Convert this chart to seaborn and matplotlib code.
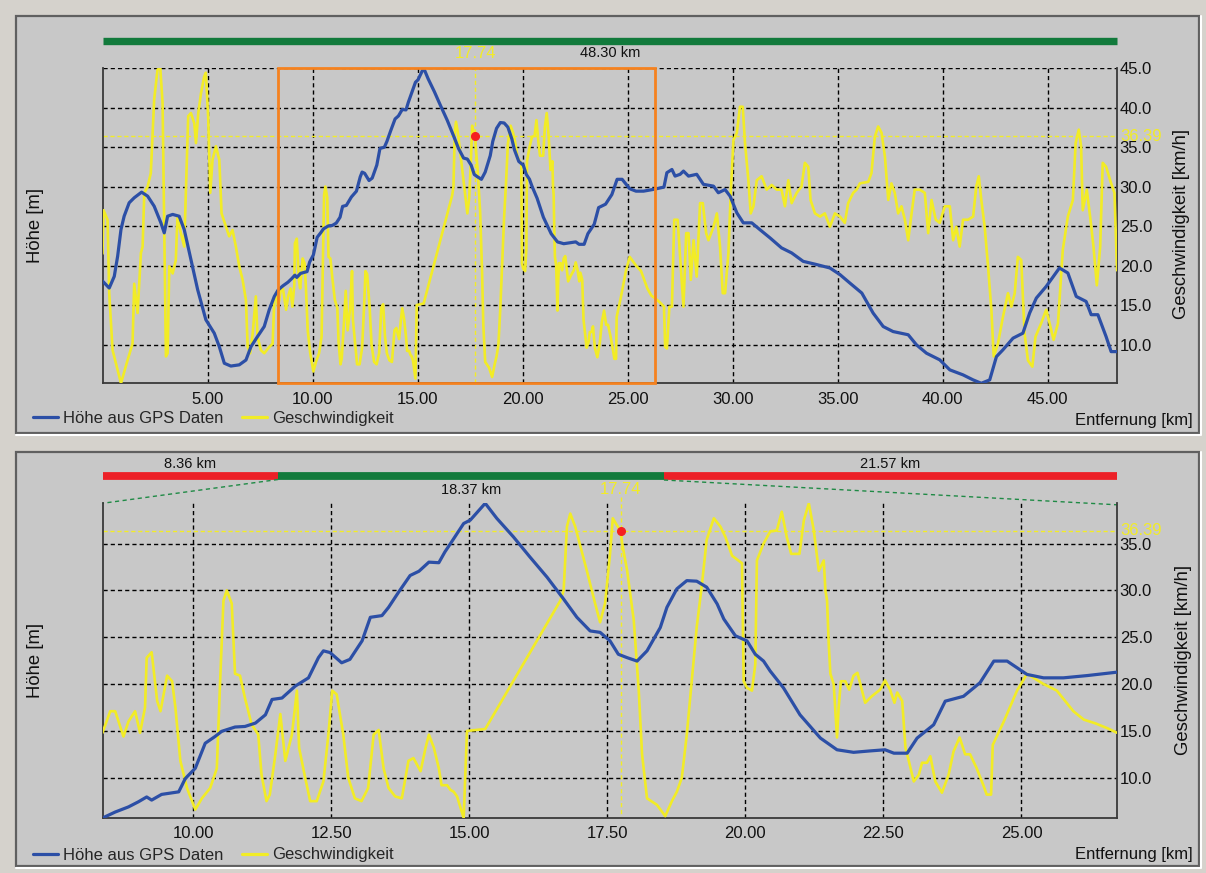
import numpy as np
import pandas as pd
import matplotlib
matplotlib.use("Agg")
import matplotlib.pyplot as plt
import matplotlib.transforms as mtransforms
from matplotlib.patches import Rectangle
from matplotlib.lines import Line2D
import seaborn as sns

# ------------------------------------------------------------------ data
elev_km = [0.00, 0.32, 0.56, 0.72, 0.88, 1.03, 1.27, 1.51, 1.86, 2.15, 2.46, 2.78, 2.94, 3.10, 3.34, 3.65,
           3.89, 4.21, 4.53, 4.92, 5.32, 5.56, 5.80, 6.11, 6.51, 6.83, 7.07, 7.38, 7.70, 7.94, 8.18,
           8.36, 8.59, 8.83, 9.01, 9.16, 9.25, 9.43, 9.74, 9.86, 10.04, 10.22, 10.40, 10.52, 10.76, 10.94,
           11.13, 11.31, 11.43, 11.61, 11.85, 12.09, 12.27, 12.36, 12.48, 12.69, 12.84, 13.06, 13.21, 13.42,
           13.54, 13.72, 13.93, 14.09, 14.27, 14.45, 14.56, 14.66, 14.90, 15.02, 15.29, 15.50, 15.80, 16.10,
           16.41, 16.71, 16.95, 17.19, 17.37, 17.55, 17.70, 17.86, 18.04, 18.22, 18.46, 18.58, 18.76, 18.94,
           19.12, 19.30, 19.49, 19.61, 19.82, 20.03, 20.18, 20.33, 20.45, 20.69, 20.99, 21.36, 21.66, 21.96,
           22.26, 22.53, 22.69, 22.93, 23.11, 23.41, 23.62, 23.95, 24.25, 24.50, 24.74, 25.10, 25.40, 25.76,
           26.19, 26.73, 26.87, 27.11, 27.26, 27.50, 27.66, 27.90, 28.29, 28.61, 29.09, 29.32, 29.64, 29.88,
           30.20, 30.51, 30.91, 31.30, 31.78, 32.33, 32.81, 33.36, 34.00, 34.63, 35.11, 35.58, 36.15, 36.69,
           37.17, 37.64, 38.36, 38.75, 39.23, 39.86, 40.34, 40.97, 41.45, 41.84, 42.24, 42.56, 42.87, 43.35,
           43.82, 44.14, 44.46, 44.93, 45.56, 45.96, 46.36, 46.83, 47.07, 47.39, 47.78, 48.02, 48.30]
elev_m = [151.0, 147.5, 153.3, 163.3, 176.7, 183.3, 190.0, 192.5, 195.3, 193.3, 188.3, 180.0, 175.0, 183.3, 184.2, 183.3,
          176.7, 161.7, 146.7, 131.7, 125.0, 118.3, 110.0, 108.6, 109.2, 111.6, 118.3, 123.3, 128.3, 136.7, 143.3,
          146.5, 148.6, 150.4, 152.2, 153.9, 152.8, 154.8, 155.7, 160.4, 164.0, 172.8, 175.2, 177.0, 178.5, 178.7,
          179.9, 182.8, 188.2, 188.7, 192.9, 195.8, 202.9, 205.3, 204.7, 201.1, 202.3, 208.8, 217.1, 217.7,
          220.6, 225.9, 231.8, 233.3, 236.5, 236.3, 240.1, 243.0, 250.1, 251.3, 257.2, 251.9, 245.4, 238.3,
          231.2, 223.5, 217.1, 212.3, 211.8, 208.8, 204.1, 202.9, 201.7, 205.3, 213.5, 220.6, 227.1, 230.0,
          229.8, 227.7, 221.8, 216.5, 210.6, 208.8, 204.1, 201.7, 198.2, 192.3, 182.8, 174.6, 170.5, 169.6,
          170.1, 170.5, 169.3, 169.3, 174.6, 179.3, 187.6, 189.3, 194.1, 201.7, 201.7, 197.0, 195.8, 195.8,
          196.6, 197.8, 205.0, 206.6, 203.3, 204.2, 205.8, 203.3, 204.2, 199.2, 198.3, 195.0, 196.6, 193.3,
          185.0, 180.0, 180.0, 176.6, 172.5, 167.5, 165.0, 160.8, 159.2, 157.5, 154.2, 150.0, 145.0, 135.0,
          128.3, 125.8, 124.2, 119.2, 115.0, 111.7, 106.7, 104.2, 101.7, 100.0, 101.7, 113.3, 116.7, 122.5,
          125.0, 135.0, 142.5, 148.3, 157.5, 155.0, 143.3, 140.8, 134.2, 134.2, 123.3, 115.8, 115.8]

speed_km = [0.00, 0.05, 0.24, 0.32, 0.48, 0.88, 1.19, 1.43, 1.51, 1.67, 1.83, 1.91, 1.99, 2.15, 2.30, 2.46,
            2.62, 2.75, 2.86, 2.94, 3.02, 3.10, 3.18, 3.34, 3.49, 3.57, 3.73, 3.89, 4.02, 4.08, 4.21, 4.37,
            4.45, 4.56, 4.69, 4.84, 4.92, 5.03, 5.13, 5.24, 5.40, 5.56, 5.67, 5.88, 6.03, 6.19, 6.35, 6.51,
            6.67, 6.83, 6.91, 7.03, 7.15, 7.30, 7.38, 7.54, 7.70, 7.94, 8.10, 8.18, 8.26,
            8.36, 8.50, 8.59, 8.74, 8.83, 8.95, 9.04, 9.13, 9.16, 9.25, 9.35, 9.41, 9.53, 9.62, 9.68, 9.77,
            9.89, 10.04, 10.16, 10.31, 10.43, 10.49, 10.55, 10.61, 10.70, 10.76, 10.85, 10.94, 11.06, 11.18,
            11.24, 11.33, 11.39, 11.49, 11.58, 11.67, 11.79, 11.88, 11.92, 12.03, 12.12, 12.24, 12.36, 12.45,
            12.52, 12.60, 12.72, 12.81, 12.93, 13.05, 13.17, 13.27, 13.36, 13.45, 13.54, 13.66, 13.78, 13.90,
            13.99, 14.12, 14.21, 14.27, 14.36, 14.45, 14.50, 14.60, 14.66, 14.72, 14.78, 14.90, 14.96, 15.29,
            16.65, 16.71, 16.77, 16.83, 16.92, 17.13, 17.28, 17.37, 17.46, 17.55, 17.60, 17.67, 17.74, 17.77,
            17.86, 17.98, 18.07, 18.13, 18.22, 18.40, 18.55, 18.67, 18.76, 18.85, 18.94, 19.03, 19.12, 19.21,
            19.30, 19.43, 19.55, 19.64, 19.76, 19.94, 19.97, 20.03, 20.12, 20.18, 20.21, 20.33, 20.45, 20.57,
            20.66, 20.75, 20.83, 20.98, 21.06, 21.15, 21.24, 21.33, 21.42, 21.45, 21.48, 21.51, 21.54, 21.60,
            21.66, 21.69, 21.73, 21.81, 21.88, 21.96, 22.03, 22.17, 22.29, 22.44, 22.53, 22.62, 22.70, 22.75,
            22.84, 22.90, 22.96, 23.05, 23.14, 23.20, 23.29, 23.35, 23.44, 23.56, 23.68, 23.77, 23.88, 23.98,
            24.07, 24.19, 24.31, 24.37, 24.45, 24.48, 24.68, 24.92, 25.10, 25.40, 25.64, 25.79, 25.94, 26.13,
            26.34, 26.55, 26.73,
            26.79, 26.87, 26.99, 27.11, 27.22, 27.38, 27.50, 27.66, 27.79, 27.90, 28.01, 28.14, 28.29, 28.45,
            28.58, 28.74, 28.85, 29.09, 29.25, 29.40, 29.53, 29.64, 29.80, 29.91, 30.04, 30.20, 30.35, 30.48,
            30.59, 30.75, 30.86, 30.99, 31.15, 31.38, 31.62, 31.86, 32.10, 32.33, 32.49, 32.65, 32.81, 33.05,
            33.28, 33.44, 33.60, 33.71, 33.92, 34.16, 34.39, 34.63, 34.87, 35.11, 35.34, 35.50, 35.74, 35.90,
            36.06, 36.46, 36.61, 36.77, 36.93, 37.09, 37.25, 37.41, 37.56, 37.72, 37.88, 38.04, 38.20, 38.36,
            38.52, 38.67, 38.91, 39.15, 39.31, 39.47, 39.67, 39.86, 40.10, 40.34, 40.50, 40.65, 40.81, 40.97,
            41.21, 41.45, 41.60, 41.72, 41.84, 42.00, 42.16, 42.32, 42.43, 42.63, 42.87, 43.11, 43.27, 43.43,
            43.58, 43.74, 43.90, 44.06, 44.27, 44.42, 44.69, 44.93, 45.09, 45.28, 45.49, 45.72, 45.96, 46.20,
            46.33, 46.48, 46.59, 46.67, 46.86, 47.02, 47.18, 47.34, 47.50, 47.62, 47.78, 48.02, 48.18, 48.30]
speed_kmh = [21.5, 27.0, 25.8, 16.5, 9.3, 5.1, 8.0, 10.1, 17.7, 14.0, 21.6, 22.4, 29.2, 30.0, 31.7, 41.0,
             44.8, 45.0, 40.6, 24.9, 8.5, 8.9, 19.9, 19.0, 20.7, 26.2, 24.1, 22.4, 33.4, 38.9, 39.3, 38.0,
             35.5, 39.3, 41.8, 43.9, 44.4, 38.9, 29.2, 33.4, 35.1, 33.4, 26.6, 24.9, 23.7, 24.5, 22.4, 19.9,
             18.2, 15.6, 9.7, 8.9, 11.4, 16.1, 11.0, 9.3, 8.9, 9.7, 10.1, 15.6, 16.5,
             14.8, 17.1, 17.1, 14.4, 16.0, 17.1, 14.8, 17.5, 22.8, 23.4, 18.2, 17.1, 20.9, 20.3, 17.5, 11.8,
             8.9, 6.6, 7.8, 8.9, 11.0, 20.3, 28.9, 30.0, 28.6, 21.1, 20.9, 18.5, 15.7, 14.6,
             10.3, 7.5, 8.2, 12.5, 16.8, 11.8, 14.6, 19.3, 13.2, 10.0, 7.5, 7.5, 9.6, 14.6,
             19.3, 18.9, 14.6, 10.0, 7.8, 7.5, 8.9, 14.6, 15.1, 11.0, 8.9, 8.0, 7.8, 11.8,
             12.1, 10.7, 13.2, 14.6, 13.2, 11.0, 9.2, 9.2, 8.7, 8.5, 8.0, 5.7, 15.0, 15.2,
             28.9, 30.0, 36.8, 38.2, 36.8, 32.1, 28.6, 26.6, 28.6, 33.9, 37.7, 37.0, 36.39, 35.0,
             32.1, 26.8, 19.3, 12.5, 7.8, 7.1, 5.9, 7.5, 8.5, 10.0, 14.6, 20.3, 26.1, 30.4,
             35.4, 37.7, 36.8, 35.7, 33.7, 32.9, 20.3, 19.6, 19.3, 22.1, 33.2, 35.0, 36.3, 36.4,
             38.4, 35.7, 33.9, 33.9, 37.5, 39.3, 36.4, 32.1, 33.2, 30.0, 28.9, 24.3, 21.1, 20.0,
             14.3, 17.5, 20.3, 20.3, 19.4, 20.9, 21.2, 18.0, 18.7, 19.4, 20.4, 19.4, 18.0, 19.1,
             18.2, 13.2, 11.8, 9.6, 10.3, 11.6, 11.6, 12.3, 9.6, 8.4, 10.3, 12.8, 14.3, 12.5,
             12.5, 11.0, 9.2, 8.2, 8.2, 13.5, 16.0, 19.3, 21.1, 20.0, 19.3, 18.2, 17.1, 16.2,
             15.8, 15.3, 14.8,
             9.7, 9.5, 14.8, 14.8, 25.8, 25.8, 21.1, 14.8, 24.1, 24.1, 18.2, 23.2, 18.6, 27.9,
             27.9, 24.1, 23.2, 24.9, 26.6, 22.4, 16.5, 16.5, 21.6, 29.2, 35.9, 36.8, 40.1, 40.1,
             35.5, 30.8, 26.6, 27.5, 30.8, 31.3, 29.6, 30.2, 29.6, 29.6, 27.5, 30.8, 27.9, 29.2,
             30.0, 33.0, 32.5, 28.3, 26.6, 26.2, 26.6, 24.9, 26.6, 26.2, 25.4, 27.9, 29.2, 29.6,
             30.4, 30.6, 31.7, 36.3, 37.6, 36.8, 33.8, 28.3, 30.4, 29.2, 26.6, 27.5, 25.8, 23.2,
             26.6, 29.6, 29.6, 29.2, 24.1, 28.3, 25.8, 25.4, 27.5, 27.5, 23.2, 24.9, 22.4, 25.8,
             25.8, 26.2, 30.0, 31.3, 28.3, 24.9, 19.9, 14.4, 8.5, 10.1, 13.5, 16.5, 14.8, 16.5,
             21.1, 20.7, 11.4, 8.0, 7.2, 11.0, 12.7, 14.4, 12.7, 10.6, 12.7, 22.0, 26.2, 28.3,
             35.5, 37.2, 35.1, 27.0, 29.6, 26.2, 22.4, 17.5, 22.4, 33.0, 32.5, 30.4, 29.2, 19.4]

TOTAL_KM = 48.30
SEL_START = 8.36
SEL_LEN = 18.37
SEL_REST = 21.57
SEL_END = SEL_START + SEL_LEN
BOX_LEFT, BOX_RIGHT = 8.36, 26.32
CURSOR_KM = 17.74
CURSOR_SPEED = 36.39

top_xticks = [5, 10, 15, 20, 25, 30, 35, 40, 45]
bot_xticks = [10, 12.5, 15, 17.5, 20, 22.5, 25]
top_yticks = [10, 15, 20, 25, 30, 35, 40, 45]
bot_yticks = [10, 15, 20, 25, 30, 35]

LEG_ELEV = "Höhe aus GPS Daten"
LEG_SPEED = "Geschwindigkeit"
YLAB_L = "Höhe [m]"
YLAB_R = "Geschwindigkeit [km/h]"
XLAB = "Entfernung [km]"

# ------------------------------------------------------------------ style
sns.set_theme(style="white")
plt.rcParams['font.family'] = ['Liberation Sans', 'DejaVu Sans']

OUTER_BG = '#d5d2cc'
PANEL_BG = '#c8c8c8'
BLUE = '#2c4fa6'
YELLOW = '#f2ec26'
ORANGE = '#f5821f'
GREEN = '#127a3c'
RED = '#ec2027'
GRID_LS = (0, (3.0, 2.2))
FS = 12
FS_V = 13.3

elev = pd.DataFrame({'km': elev_km, 'm': elev_m})
speed = pd.DataFrame({'km': speed_km, 'v': speed_kmh})

W, H = 1206, 873
fig = plt.figure(figsize=(W / 100, H / 100), dpi=100)
fig.patch.set_facecolor(OUTER_BG)


def fx(px):
    return px / W


def fy(py):
    return 1 - py / H


def panel(top, bottom):
    fig.add_artist(Rectangle((fx(16), fy(bottom)), fx(1199) - fx(16), fy(top) - fy(bottom),
                             transform=fig.transFigure, facecolor=PANEL_BG,
                             edgecolor='#606060', lw=1.6, zorder=0))
    fig.add_artist(Line2D([fx(16), fx(1200)], [fy(bottom + 2), fy(bottom + 2)], color='white',
                          lw=1.5, transform=fig.transFigure, zorder=0))
    fig.add_artist(Line2D([fx(1200.5), fx(1200.5)], [fy(bottom + 2), fy(top)], color='white',
                          lw=1.5, transform=fig.transFigure, zorder=0))


panel(16, 433)
panel(452, 866)

AX_L, AX_R = 102.5, 1117.0


def make_axes(top_px, bot_px, ev, sp, xlim, xticks, yticks, xfmt):
    ax = fig.add_axes([fx(AX_L), fy(bot_px), fx(AX_R) - fx(AX_L), fy(top_px) - fy(bot_px)])
    ax.set_facecolor(PANEL_BG)
    axe = ax.twinx()
    sns.lineplot(data=sp, x='km', y='v', ax=ax, color=YELLOW, linewidth=1.9,
                 estimator=None, sort=False, legend=False, zorder=3)
    sns.lineplot(data=ev, x='km', y='m', ax=axe, color=BLUE, linewidth=2.3,
                 estimator=None, sort=False, legend=False, zorder=3)
    ax.set_xlim(*xlim)
    ax.set_ylim(sp['v'].min(), sp['v'].max())
    axe.set_ylim(ev['m'].min(), ev['m'].max())
    ax.set_xticks(xticks)
    ax.set_xticklabels([xfmt.format(t) for t in xticks])
    ax.set_yticks(yticks)
    ax.set_yticklabels(["{:.1f}".format(t) for t in yticks])
    ax.yaxis.tick_right()
    axe.set_yticks([])
    ax.set_xlabel('')
    ax.set_ylabel('')
    axe.set_ylabel('')
    ax.tick_params(axis='y', which='both', left=False, right=False, labelleft=False,
                   labelright=True, length=0, pad=2, labelsize=FS, labelcolor='#111111')
    ax.tick_params(axis='x', bottom=False, length=0, pad=6, labelsize=FS, labelcolor='#111111')
    ax.grid(True, color='black', linestyle=GRID_LS, linewidth=1.0, zorder=1)
    ax.set_axisbelow(True)
    ax.spines['top'].set_visible(False)
    for s in ['left', 'right', 'bottom']:
        ax.spines[s].set_color('#3a3a3a')
        ax.spines[s].set_linewidth(1.3)
    for s in axe.spines.values():
        s.set_visible(False)
    return ax, axe


# ------------------------------------------------------------------ top panel
T_TOP, T_BOT = 68.0, 383.3
ax1, ax1e = make_axes(T_TOP, T_BOT, elev, speed, (0, TOTAL_KM), top_xticks, top_yticks, "{:.2f}")

bx1 = mtransforms.blended_transform_factory(ax1.transData, ax1.transAxes)
bf1 = mtransforms.blended_transform_factory(ax1.transData, fig.transFigure)

ax1.plot([0, TOTAL_KM], [fy(40.5), fy(40.5)], transform=bf1, color=GREEN, lw=5.3,
         solid_capstyle='butt', clip_on=False)
ax1.text(TOTAL_KM / 2, fy(53), "{:.2f} km".format(TOTAL_KM), transform=bf1, ha='center',
         va='center', fontsize=10.5, color='#111111')
ax1.text(CURSOR_KM, fy(53), "{:.2f}".format(CURSOR_KM), transform=bf1, ha='center', va='center',
         fontsize=FS, color=YELLOW)
ax1.axvline(CURSOR_KM, color=YELLOW, lw=1.0, ls=(0, (3, 2)), zorder=2.5)
ax1.axhline(CURSOR_SPEED, color=YELLOW, lw=1.0, ls=(0, (3, 2)), zorder=2.5)
ax1e.add_patch(Rectangle((BOX_LEFT, 0), BOX_RIGHT - BOX_LEFT, 1, transform=bx1, fill=False,
                         edgecolor=ORANGE, lw=2.0, clip_on=False, zorder=5))
ax1e.plot([CURSOR_KM], [CURSOR_SPEED], 'o', color='#f52020', ms=5.5, transform=ax1.transData,
          zorder=6)
ax1.text(1.003, CURSOR_SPEED, "{:.2f}".format(CURSOR_SPEED),
         transform=mtransforms.blended_transform_factory(ax1.transAxes, ax1.transData),
         ha='left', va='center', fontsize=FS, color=YELLOW, zorder=7)

fig.text(fx(36), fy((T_TOP + T_BOT) / 2), YLAB_L, rotation=90, ha='center', va='center', fontsize=FS_V,
         color='#111111')
fig.text(fx(1182), fy(224), YLAB_R, rotation=90, ha='center', va='center', fontsize=FS_V,
         color='#111111')
fig.text(fx(1193), fy(420), XLAB, ha='right', va='center', fontsize=FS, color='#111111')

# ------------------------------------------------------------------ bottom panel
B_TOP, B_BOT = 503.3, 818.0
e_sub = elev[(elev['km'] >= SEL_START) & (elev['km'] <= SEL_END + 1e-9)]
s_sub = speed[(speed['km'] >= SEL_START) & (speed['km'] <= SEL_END + 1e-9)]
ax2, ax2e = make_axes(B_TOP, B_BOT, e_sub, s_sub, (SEL_START, SEL_END), bot_xticks, bot_yticks, "{:.2f}")

bf2 = mtransforms.blended_transform_factory(ax2.transData, fig.transFigure)
bfa2 = mtransforms.blended_transform_factory(ax2.transAxes, fig.transFigure)
f_a = SEL_START / TOTAL_KM
f_b = SEL_END / TOTAL_KM
BAR_Y = fy(476)
ax2.plot([0, f_a], [BAR_Y, BAR_Y], transform=bfa2, color=RED, lw=5.6, solid_capstyle='butt', clip_on=False)
ax2.plot([f_a, f_b], [BAR_Y, BAR_Y], transform=bfa2, color=GREEN, lw=5.6, solid_capstyle='butt', clip_on=False)
ax2.plot([f_b, 1], [BAR_Y, BAR_Y], transform=bfa2, color=RED, lw=5.6, solid_capstyle='butt', clip_on=False)
ax2.text(f_a / 2, fy(464), "{:.2f} km".format(SEL_START), transform=bfa2, ha='center', va='center',
         fontsize=10.5, color='#111111')
ax2.text((f_b + 1) / 2, fy(464), "{:.2f} km".format(SEL_REST), transform=bfa2, ha='center', va='center',
         fontsize=10.5, color='#111111')
ax2.text((f_a + f_b) / 2, fy(490), "{:.2f} km".format(SEL_LEN), transform=bfa2, ha='center', va='center',
         fontsize=10.5, color='#111111')
ax2.text(CURSOR_KM, fy(490), "{:.2f}".format(CURSOR_KM), transform=bf2, ha='center', va='center',
         fontsize=FS, color=YELLOW)
ax2.plot([f_a, 0], [fy(479.5), fy(B_TOP)], transform=bfa2, color='#1f8a45', lw=1.0,
         ls=(0, (3, 2.5)), clip_on=False)
ax2.plot([f_b, 1], [fy(480), fy(B_TOP + 1.5)], transform=bfa2, color='#1f8a45', lw=1.0,
         ls=(0, (3, 2.5)), clip_on=False)
ax2.plot([CURSOR_KM, CURSOR_KM], [fy(497), fy(B_BOT)], transform=bf2, color=YELLOW, lw=1.0,
         ls=(0, (3, 2)), clip_on=False, zorder=2.5)
ax2.axhline(CURSOR_SPEED, color=YELLOW, lw=1.0, ls=(0, (3, 2)), zorder=2.5)
ax2e.plot([CURSOR_KM], [CURSOR_SPEED], 'o', color='#f52020', ms=5.5, transform=ax2.transData, zorder=6)
ax2.text(1.003, CURSOR_SPEED, "{:.2f}".format(CURSOR_SPEED),
         transform=mtransforms.blended_transform_factory(ax2.transAxes, ax2.transData),
         ha='left', va='center', fontsize=FS, color=YELLOW, zorder=7)

fig.text(fx(36), fy((B_TOP + B_BOT) / 2), YLAB_L, rotation=90, ha='center', va='center', fontsize=FS_V,
         color='#111111')
fig.text(fx(1183), fy(660), YLAB_R, rotation=90, ha='center', va='center', fontsize=FS_V,
         color='#111111')
fig.text(fx(1193), fy(855), XLAB, ha='right', va='center', fontsize=FS, color='#111111')

# ------------------------------------------------------------------ legends
handles = [Line2D([], [], color=BLUE, lw=2.3), Line2D([], [], color=YELLOW, lw=2.3)]
for ypx in (418, 855):
    fig.legend(handles=handles, labels=[LEG_ELEV, LEG_SPEED], loc='center left',
               bbox_to_anchor=(fx(33), fy(ypx)), ncol=2, frameon=False, handlelength=1.5,
               handletextpad=0.3, columnspacing=1.1, borderpad=0, borderaxespad=0, fontsize=FS)

fig.savefig('out.png', dpi=100, facecolor=fig.get_facecolor())
